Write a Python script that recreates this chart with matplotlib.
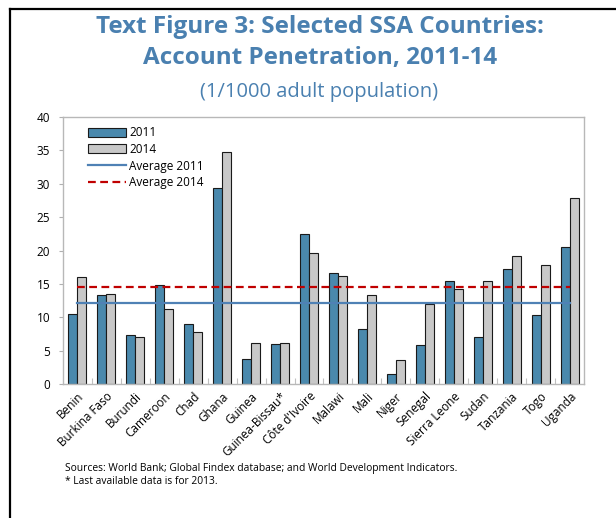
import matplotlib
matplotlib.use('Agg')
import matplotlib.pyplot as plt
from matplotlib.lines import Line2D
import numpy as np

plt.rcParams.update({
    'font.family': ['Open Sans', 'DejaVu Sans'],
    'font.size': 8,
})

# Account penetration per 1,000 adults
countries = ['Benin', 'Burkina Faso', 'Burundi', 'Cameroon', 'Chad', 'Ghana',
             'Guinea', 'Guinea-Bissau*', "Côte d'Ivoire", 'Malawi', 'Mali',
             'Niger', 'Senegal', 'Sierra Leone', 'Sudan', 'Tanzania', 'Togo',
             'Uganda']
v2011 = [10.5, 13.4, 7.3, 14.9, 9.0, 29.4, 3.8, 6.0, 22.5, 16.6, 8.2,
         1.6, 5.9, 15.4, 7.0, 17.3, 10.3, 20.5]
v2014 = [16.0, 13.5, 7.0, 11.3, 7.8, 34.7, 6.2, 6.2, 19.7, 16.2, 13.3,
         3.6, 12.0, 14.2, 15.4, 19.2, 17.8, 27.8]
avg2011 = 12.2
avg2014 = 14.5

BLUE = '#4a89ad'
GREY = '#c8c8c8'
LINE_BLUE = '#4f81b5'
RED = '#c00000'
TITLE = '#4a80b0'

fig = plt.figure(figsize=(6.16, 5.18), dpi=100)
ax = fig.add_axes([0.1018, 0.2581, 0.8467, 0.5166])

x = np.arange(len(countries))
w = 0.31
b1 = ax.bar(x - w / 2, v2011, w, color=BLUE, edgecolor='#1a1a1a',
            linewidth=0.8, zorder=2)
b2 = ax.bar(x + w / 2, v2014, w, color=GREY, edgecolor='#1a1a1a',
            linewidth=0.8, zorder=2)
l1, = ax.plot([x[0], x[-1]], [avg2011] * 2, color=LINE_BLUE, lw=1.6, zorder=3)
l2, = ax.plot([x[0], x[-1]], [avg2014] * 2, color=RED, lw=1.6,
              ls=(0, (3.5, 2)), zorder=3)

ax.set_xlim(-0.5, len(countries) - 0.5)
ax.set_ylim(0, 40)
ax.set_yticks(range(0, 41, 5))
ax.set_xticks(x)
ax.set_xticklabels(countries, rotation=45, ha='right', rotation_mode='anchor',
                   fontsize=8.5)
ax.tick_params(axis='x', length=0, pad=4)
ax.set_xticks(np.arange(0.5, len(countries) - 1, 1), minor=True)
ax.tick_params(axis='x', which='minor', length=4, direction='in',
               color='#c0c0c0', width=0.8)
ax.tick_params(axis='y', length=3, color='#b0b0b0', labelsize=8.5, pad=6)
for s in ax.spines.values():
    s.set_color('#b8b8b8')
    s.set_linewidth(1.0)

ax.legend([b1, b2, l1, l2], ['2011', '2014', 'Average 2011', 'Average 2014'],
          loc='upper left', bbox_to_anchor=(0.035, 0.99), frameon=False,
          fontsize=8.5, handlelength=3.2, handleheight=0.8, handletextpad=0.3,
          labelspacing=0.3, borderaxespad=0.2)

fig.text(0.52, 1 - 27 / 518, 'Text Figure 3: Selected SSA Countries:',
         ha='center', va='center', fontsize=17.5, fontweight='bold',
         color=TITLE)
fig.text(0.52, 1 - 58 / 518, 'Account Penetration, 2011-14', ha='center',
         va='center', fontsize=17.5, fontweight='bold', color=TITLE)
fig.text(0.518, 1 - 92 / 518, '(1/1000 adult population)', ha='center',
         va='center', fontsize=14.5, color=TITLE)

fig.text(0.105, 1 - 469 / 518, 'Sources: World Bank; Global Findex database; '
         'and World Development Indicators.', ha='left', va='center',
         fontsize=7.4)
fig.text(0.105, 1 - 482 / 518, '* Last available data is for 2013.',
         ha='left', va='center', fontsize=7.4)

# frame lines on the left and top edges
fy = 1 - 9 / 518
fx = 10 / 616
fig.add_artist(Line2D([fx, fx], [0, fy], color='black', lw=1.6,
                      transform=fig.transFigure))
fig.add_artist(Line2D([fx, 1], [fy, fy], color='black', lw=1.6,
                      transform=fig.transFigure))

fig.savefig('out.png', dpi=100)
